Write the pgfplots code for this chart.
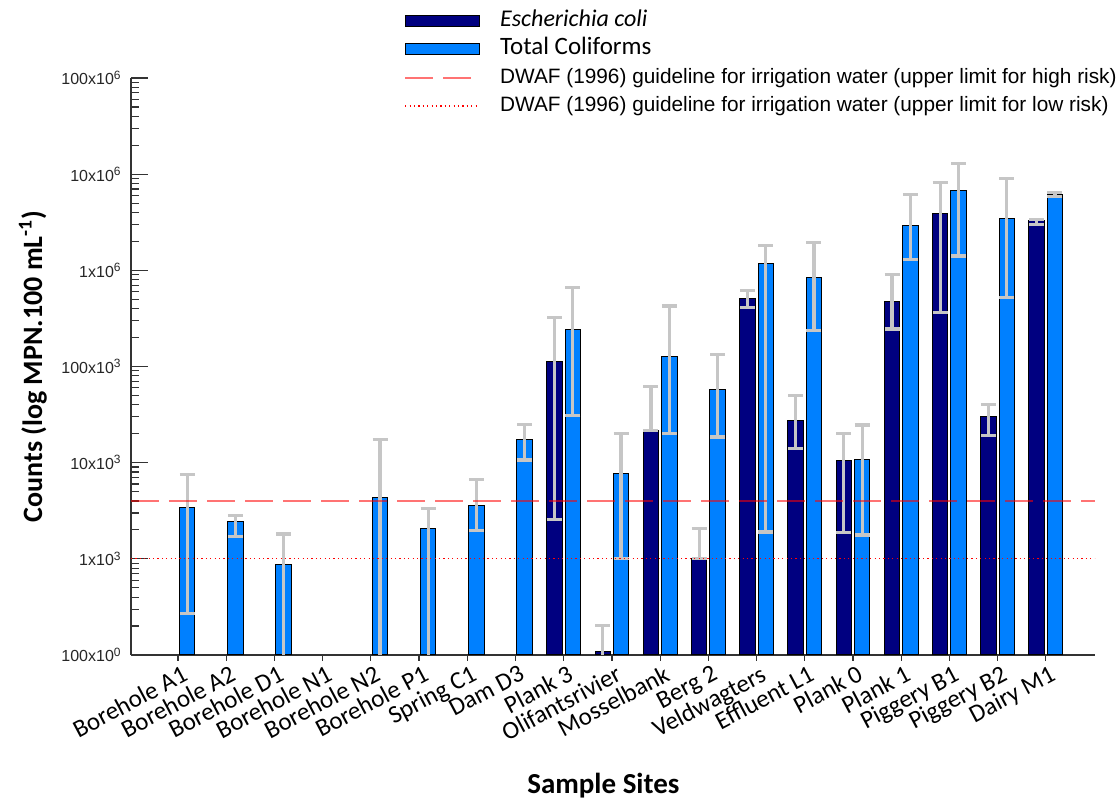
\documentclass[border=0pt]{standalone}
\usepackage{fontspec}
\setmainfont{Carlito}
\newfontfamily\arialfont{Liberation Sans}
\usepackage{pgfplots}
\usepackage{pgfplotstable}
\pgfplotsset{compat=1.18}

\definecolor{ecoli}{RGB}{0,0,128}
\definecolor{tcoli}{RGB}{0,128,255}
\definecolor{errgray}{RGB}{198,198,198}

% E. coli counts per site (x = site index), with upper/lower error
\pgfplotstableread{
x  y        ep       em
8  112000   214000   109420
9  110      94       100
10 21500    41000    0
11 1000     1050     0
12 506000   106000   95000
13 27700    22700    13600
14 10640    9360     8770
15 471000   436000   226000
16 3.87e6   4.26e6   3.509e6
17 30500    10100    11500
18 3.27e6   130000   300000
}\ecolitable

% Total coliform counts per site
\pgfplotstableread{
x  y        ep       em
0  3400     4150     3131
1  2450     380      750
2  883      927      873
4  4390     13110    4380
5  2090     1260     2080
6  3560     3140     1580
7  17500    7500     6860
8  241000   417000   210000
9  7740     12260    6730
10 126000   299000   106000
11 58200    75800    39700
12 1.19e6   630000   1188100
13 850000   1.11e6   611000
14 10900    13700    9130
15 2.9e6    3.25e6   1.61e6
16 6.7e6    6.2e6    5.29e6
17 3.44e6   5.64e6   2.922e6
18 6.15e6   300000   250000
}\tctable

\pgfplotsset{
  errbars/.style={
    error bars/y dir=both, error bars/y explicit,
    error bars/error bar style={line width=1.6pt, errgray},
    error bars/error mark=-,
    error bars/error mark options={rotate=90, line width=1.6pt, errgray,
      mark size=3.75pt},
  },
  barlegend/.style={legend image code/.code={%
    \draw[##1, line width=0.5pt] (0pt,-2.75pt) rectangle (37pt,2.75pt);}},
  linelegend/.style={legend image code/.code={%
    \draw[##1] (0pt,0pt) -- (37pt,0pt);}},
}

\begin{document}
\begin{tikzpicture}
\useasboundingbox (-65.5pt,-74pt) rectangle (494pt,327.5pt);
\begin{axis}[
  scale only axis, width=482pt, height=288.5pt,
  at={(0pt,0pt)}, anchor=south west,
  ymode=log, log origin y=infty,
  xmin=-0.975, xmax=19.02, ymin=100, ymax=1e8,
  axis lines*=left,
  axis line style={-, black!80, line width=0.6pt},
  xtick align=outside, ytick align=inside,
  xtick={0,...,18},
  xticklabels={Borehole A1, Borehole A2, Borehole D1, Borehole N1,
    Borehole N2, Borehole P1, Spring C1, Dam D3, Plank 3, Olifantsrivier,
    Mosselbank, Berg 2, Veldwagters, Effluent L1, Plank 0, Plank 1,
    Piggery B1, Piggery B2, Dairy M1},
  xtick style={/pgfplots/major tick length=3pt, black!80, line width=0.6pt},
  xticklabel style={xshift=1.5pt, yshift=4pt, rotate=28, anchor=north east,
    inner sep=0pt, font=\fontsize{12.5}{15}\selectfont},
  ytick={1e2,1e3,1e4,1e5,1e6,1e7,1e8},
  minor ytick={2e2,3e2,4e2,5e2,6e2,7e2,8e2,9e2,
    2e3,3e3,4e3,5e3,6e3,7e3,8e3,9e3,
    2e4,3e4,4e4,5e4,6e4,7e4,8e4,9e4,
    2e5,3e5,4e5,5e5,6e5,7e5,8e5,9e5,
    2e6,3e6,4e6,5e6,6e6,7e6,8e6,9e6,
    2e7,3e7,4e7,5e7,6e7,7e7,8e7,9e7},
  yticklabels={100x10\textsuperscript{0}, 1x10\textsuperscript{3},
    10x10\textsuperscript{3}, 100x10\textsuperscript{3},
    1x10\textsuperscript{6}, 10x10\textsuperscript{6},
    100x10\textsuperscript{6}},
  ytick style={black!80, line width=0.6pt},
  major tick length=8.5pt, minor tick length=4pt,
  yticklabel style={inner sep=0pt, xshift=-4.5pt,
    font=\arialfont\fontsize{8}{9}\selectfont, text=black!85},
  ylabel={Counts (log MPN.100 mL\textsuperscript{-1})},
  every axis y label/.style={at={(axis description cs:-0.1017,0.5)},
    rotate=90, anchor=center, font=\bfseries\fontsize{14}{16}\selectfont},
  xlabel={Sample Sites},
  every axis x label/.style={at={(axis description cs:0.49,0)},
    yshift=-69pt, anchor=base, font=\bfseries\fontsize{14.5}{16}\selectfont},
  legend style={at={(axis description cs:0.2767,1.125)}, anchor=north west,
    draw=none, fill=none, row sep=3.7pt,
    nodes={inner sep=0pt, text height=8pt, text depth=2.5pt},
    /tikz/column 1/.style={column sep=10pt},
    font=\fontsize{12.5}{14}\selectfont},
  legend cell align=left,
]
\addplot[ybar, bar width=0.32, bar shift=0pt, fill=ecoli, draw=black,
  line width=0.5pt, errbars, barlegend]
  table[x expr=\thisrow{x}-0.19, y=y, y error plus=ep, y error minus=em]
  {\ecolitable};
\addlegendentry{\fontsize{12}{14}\selectfont\itshape Escherichia coli}
\addplot[ybar, bar width=0.32, bar shift=0pt, fill=tcoli, draw=black,
  line width=0.5pt, errbars, barlegend]
  table[x expr=\thisrow{x}+0.19, y=y, y error plus=ep, y error minus=em]
  {\tctable};
\addlegendentry{Total Coliforms}
\addplot[red, opacity=0.55, line width=1pt, dash pattern=on 14pt off 5pt,
  linelegend] coordinates {(-0.975,4000) (19.02,4000)};
\addlegendentry{\arialfont\fontsize{10.4}{12}\selectfont DWAF (1996) guideline for irrigation water (upper limit for high risk)}
\addplot[red, line width=0.6pt, dash pattern=on 0.6pt off 1.6pt,
  linelegend] coordinates {(-0.975,1000) (19.02,1000)};
\addlegendentry{\arialfont\fontsize{10.4}{12}\selectfont DWAF (1996) guideline for irrigation water (upper limit for low risk)}
\end{axis}
\end{tikzpicture}
\end{document}
